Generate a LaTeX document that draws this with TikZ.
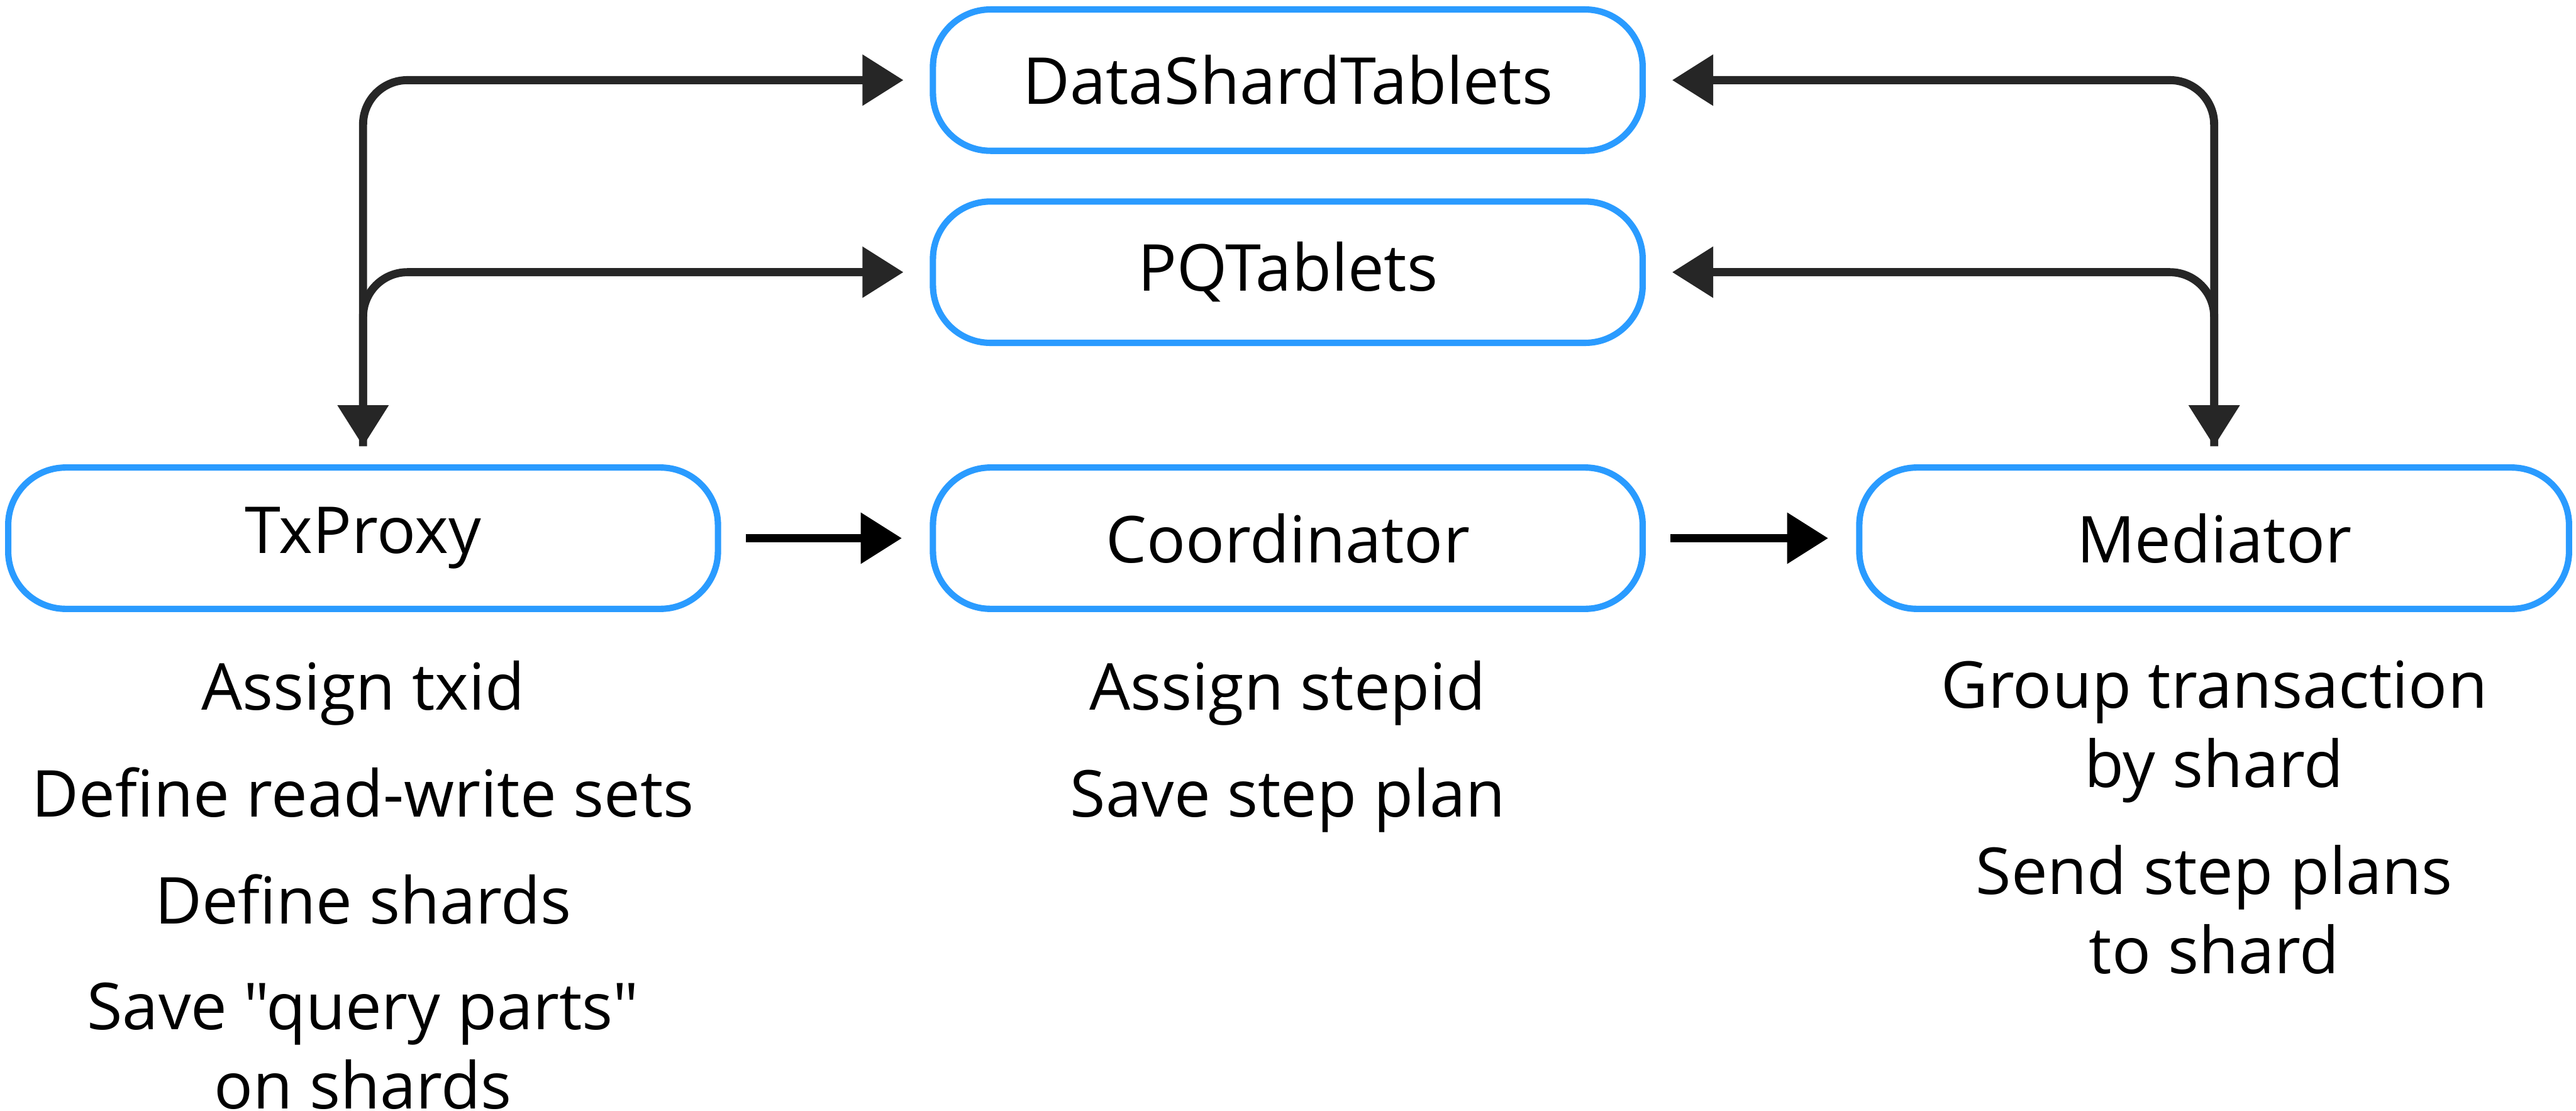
\documentclass[tikz,border=0pt]{standalone}
\usepackage{fontspec}
\setmainfont{Open Sans}[Ligatures=TeXOff]
\usepackage{tikz}
\usetikzlibrary{positioning,arrows.meta}
\definecolor{tabletblue}{HTML}{2A9BFF}
\definecolor{linkgray}{HTML}{262626}
\tikzset{actor/.style={draw=tabletblue,line width=1.1pt,rounded corners=0.35cm,
        minimum width=4.32cm,minimum height=0.86cm,inner sep=0pt,
        font=\fontsize{11.2}{13.7}\selectfont},
    notes/.style={align=center,inner sep=0pt,font=\fontsize{11.2}{13.7}\selectfont},
    link/.style={draw=black,line width=1.4pt,-{Triangle[length=0.25cm,width=0.30cm]},
        shorten <=0.15cm,shorten >=0.17cm},
    bus/.style={draw=linkgray,line width=1.4pt,rounded corners=0.27cm,
        shorten <=0.11cm,shorten >=0.16cm}}

\begin{document}
\begin{tikzpicture}
    \useasboundingbox (0,0) rectangle (15.68,-6.76);
    \node[actor] (txproxy) at (2.21,-3.275) {TxProxy};
    \node[actor,right=1.27cm of txproxy] (coordinator) {Coordinator};
    \node[actor,right=1.28cm of coordinator] (mediator) {Mediator};
    \node[actor,above=0.72cm of coordinator] (pqtablets) {PQTablets};
    \node[actor,above=0.27cm of pqtablets] (datashard) {DataShardTablets};
    \node[notes,below=0.29cm of txproxy] (txnotes)
        {Assign txid\\[4.8pt]Define read-write sets\\[4.8pt]Define shards\\[4.6pt]Save "query parts"\\on shards};
    \node[notes,below=0.29cm of coordinator] (coordnotes)
        {Assign stepid\\[4.8pt]Save step plan};
    \node[notes,below=0.29cm of mediator] (mednotes)
        {Group transaction\\by shard\\[4.8pt]Send step plans\\to shard};
    \draw[bus,{Triangle[length=0.25cm,width=0.30cm]}-{Triangle[length=0.25cm,width=0.30cm]}]
        (txproxy.north) |- (datashard.west);
    \draw[bus,-{Triangle[length=0.25cm,width=0.30cm]}] (txproxy.north) |- (pqtablets.west);
    \draw[bus,{Triangle[length=0.25cm,width=0.30cm]}-{Triangle[length=0.25cm,width=0.30cm]}]
        (mediator.north) |- (datashard.east);
    \draw[bus,-{Triangle[length=0.25cm,width=0.30cm]}] (mediator.north) |- (pqtablets.east);
    \draw[link] (txproxy) -- (coordinator);
    \draw[link] (coordinator) -- (mediator);
\end{tikzpicture}
\end{document}
